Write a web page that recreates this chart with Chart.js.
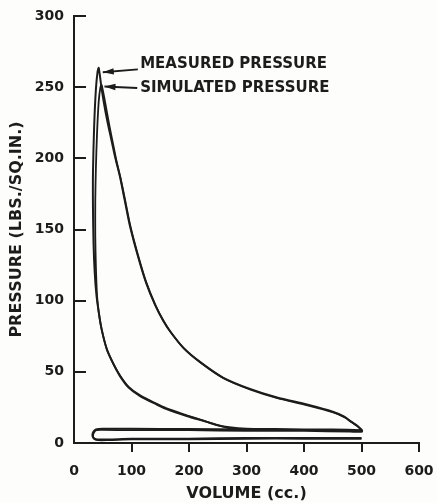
<!DOCTYPE html>
<html>
<head>
<meta charset="utf-8">
<script src="https://cdn.jsdelivr.net/npm/chart.js@4"></script>
<style>
  html, body { margin: 0; padding: 0; background: #fdfdfc; }
  canvas { display: block; }
</style>
</head>
<body>
<canvas id="c" width="437" height="503"></canvas>
<script>
// ---- data (volume cc, pressure psi) ----
const xTicks = [0, 100, 200, 300, 400, 500, 600];
const yTicks = [0, 50, 100, 150, 200, 250, 300];

const measuredVol = [500, 450, 400, 350, 300, 270, 250, 230, 196, 160, 144, 115, 95, 80, 68, 57, 48, 43, 39, 36, 34, 33, 33, 35, 38, 41, 43,
  47, 52, 58, 65, 72, 80, 88, 97, 110, 125, 141, 155, 167, 190, 219, 259, 306, 353, 405, 450, 470, 482, 493, 501,
  480, 400, 300, 200, 100, 50, 38, 34, 32, 34, 40, 60, 100, 200, 300, 400, 500];
const measuredP = [9, 9.5, 9.5, 9.8, 10, 11, 12.5, 15, 19, 24, 27, 33, 39, 47, 56, 66, 80, 92, 104, 120, 140, 165, 190, 222, 248, 261, 263.5,
  252, 239, 226, 213, 200, 187, 171, 153, 133, 113, 97, 86, 78.5, 67, 57, 46, 38, 32, 27, 22, 18.5, 15, 12, 8.5,
  9, 9.5, 9.5, 9.8, 10, 10, 9.5, 8, 5.5, 3.5, 2.5, 2.5, 3, 3, 3.5, 3.5, 3.5];

const simulatedVol = [500, 450, 400, 350, 300, 270, 250, 230, 196, 160, 144, 115, 95, 80, 68, 57, 48, 43, 40, 38, 37, 37, 38, 40, 43, 46, 48,
  52, 57, 62, 68, 74, 81, 89, 98, 111, 126, 142, 156, 168, 191, 220, 260, 307, 354, 406, 451, 471, 483, 494, 501,
  480, 400, 300, 200, 100, 50, 39, 35, 33, 35, 41, 60, 100, 200, 300, 400, 500];
const simulatedP = [8, 8.5, 8.5, 9, 9.5, 10.5, 12.5, 15, 19.5, 24.5, 27.5, 33.5, 39.5, 47.5, 56, 66, 80, 92, 104, 125, 145, 170, 192, 217, 240, 250, 251.5,
  244, 233, 222, 210, 198, 186, 170.5, 152.5, 132.5, 112.5, 96.5, 85.5, 78, 66.5, 56.5, 45.5, 37.5, 31.5, 26.5, 21.5, 18, 14.5, 11.5, 8,
  8, 8.5, 8.5, 9, 9, 9.2, 9, 7.5, 5, 3, 2, 2, 2.5, 2.5, 3, 3, 3];

const seriesLabels = ['MEASURED PRESSURE', 'SIMULATED PRESSURE'];

function toPts(xs, ys) { return xs.map((x, i) => ({ x: x, y: ys[i] })); }

const INK = '#1c1c1c';
const FONT = 'DejaVu Sans';

const innerTicks = {
  id: 'innerTicks',
  afterDraw(chart) {
    const ctx = chart.ctx;
    const y = chart.scales.y;
    const x = chart.scales.x;
    ctx.save();
    ctx.strokeStyle = INK;
    ctx.lineWidth = 2;
    y.ticks.forEach(t => {
      if (t.value <= 0) return;
      const py = Math.round(y.getPixelForValue(t.value));
      ctx.beginPath();
      ctx.moveTo(x.left, py);
      ctx.lineTo(x.left + 12, py);
      ctx.stroke();
    });
    ctx.restore();
  }
};

const arrowLabels = {
  id: 'arrowLabels',
  afterDatasetsDraw(chart, args, opts) {
    const ctx = chart.ctx;
    const xs = chart.scales.x, ys = chart.scales.y;
    ctx.save();
    ctx.fillStyle = INK;
    ctx.strokeStyle = INK;
    ctx.font = 'bold 15px "' + FONT + '"';
    ctx.textBaseline = 'middle';
    ctx.textAlign = 'left';
    opts.items.forEach((it, i) => {
      const tx = xs.getPixelForValue(it.text[0]);
      const ty = ys.getPixelForValue(it.text[1]);
      ctx.fillText(seriesLabels[i], tx, ty);
      const ax0 = xs.getPixelForValue(it.from[0]), ay0 = ys.getPixelForValue(it.from[1]);
      const ax1 = xs.getPixelForValue(it.to[0]), ay1 = ys.getPixelForValue(it.to[1]);
      ctx.lineWidth = 2;
      ctx.beginPath();
      ctx.moveTo(ax0, ay0);
      ctx.lineTo(ax1, ay1);
      ctx.stroke();
      const ang = Math.atan2(ay1 - ay0, ax1 - ax0);
      const L = 11, W = 3.2;
      ctx.beginPath();
      ctx.moveTo(ax1, ay1);
      ctx.lineTo(ax1 - L * Math.cos(ang) + W * Math.sin(ang), ay1 - L * Math.sin(ang) - W * Math.cos(ang));
      ctx.lineTo(ax1 - L * Math.cos(ang) - W * Math.sin(ang), ay1 - L * Math.sin(ang) + W * Math.cos(ang));
      ctx.closePath();
      ctx.fill();
    });
    ctx.restore();
  }
};

new Chart(document.getElementById('c'), {
  type: 'scatter',
  data: {
    datasets: [
      { label: seriesLabels[0], data: toPts(measuredVol, measuredP), showLine: true, pointRadius: 0,
        borderColor: INK, borderWidth: 2, tension: 0.25, fill: false },
      { label: seriesLabels[1], data: toPts(simulatedVol, simulatedP), showLine: true, pointRadius: 0,
        borderColor: INK, borderWidth: 1.8, tension: 0.25, fill: false }
    ]
  },
  options: {
    responsive: false,
    animation: false,
    devicePixelRatio: 1,
    layout: { padding: { left: 0, right: 18, top: 16, bottom: 0 } },
    plugins: {
      legend: { display: false },
      tooltip: { enabled: false },
      arrowLabels: {
        items: [
          { text: [115, 266.3], from: [111, 262.5], to: [50, 260.5] },
          { text: [115, 249.5], from: [110, 249.5], to: [53, 250.5] }
        ]
      }
    },
    scales: {
      x: {
        type: 'linear', min: xTicks[0], max: xTicks[xTicks.length - 1],
        afterFit(s) { s.height = 60; s.paddingLeft = 0; s.paddingRight = 0; },
        afterBuildTicks(s) { s.ticks = xTicks.map(v => ({ value: v })); },
        ticks: { color: INK, font: { family: FONT, size: 14, weight: 'bold' }, padding: 11, maxRotation: 0 },
        grid: {
          drawOnChartArea: false, drawTicks: true, tickLength: 9, lineWidth: 2,
          color: ctx => (ctx.tick && ctx.tick.value === 0) ? 'rgba(0,0,0,0)' : INK
        },
        border: { display: true, color: INK, width: 2 },
        title: { display: true, text: 'VOLUME (cc.)', color: INK, font: { family: FONT, size: 16, weight: 'bold' }, padding: { top: 0, bottom: 0 } }
      },
      y: {
        type: 'linear', min: yTicks[0], max: yTicks[yTicks.length - 1],
        afterFit(s) { s.width = 74; s.paddingTop = 0; s.paddingBottom = 0; },
        afterBuildTicks(s) { s.ticks = yTicks.map(v => ({ value: v })); },
        ticks: { color: INK, font: { family: FONT, size: 14, weight: 'bold' }, padding: 10 },
        grid: { drawOnChartArea: false, drawTicks: false },
        border: { display: true, color: INK, width: 2 },
        title: { display: true, text: 'PRESSURE (LBS./SQ.IN.)', color: INK, font: { family: FONT, size: 16, weight: 'bold' }, padding: { top: 7, bottom: 0 } }
      }
    }
  },
  plugins: [innerTicks, arrowLabels]
});
</script>
</body>
</html>
